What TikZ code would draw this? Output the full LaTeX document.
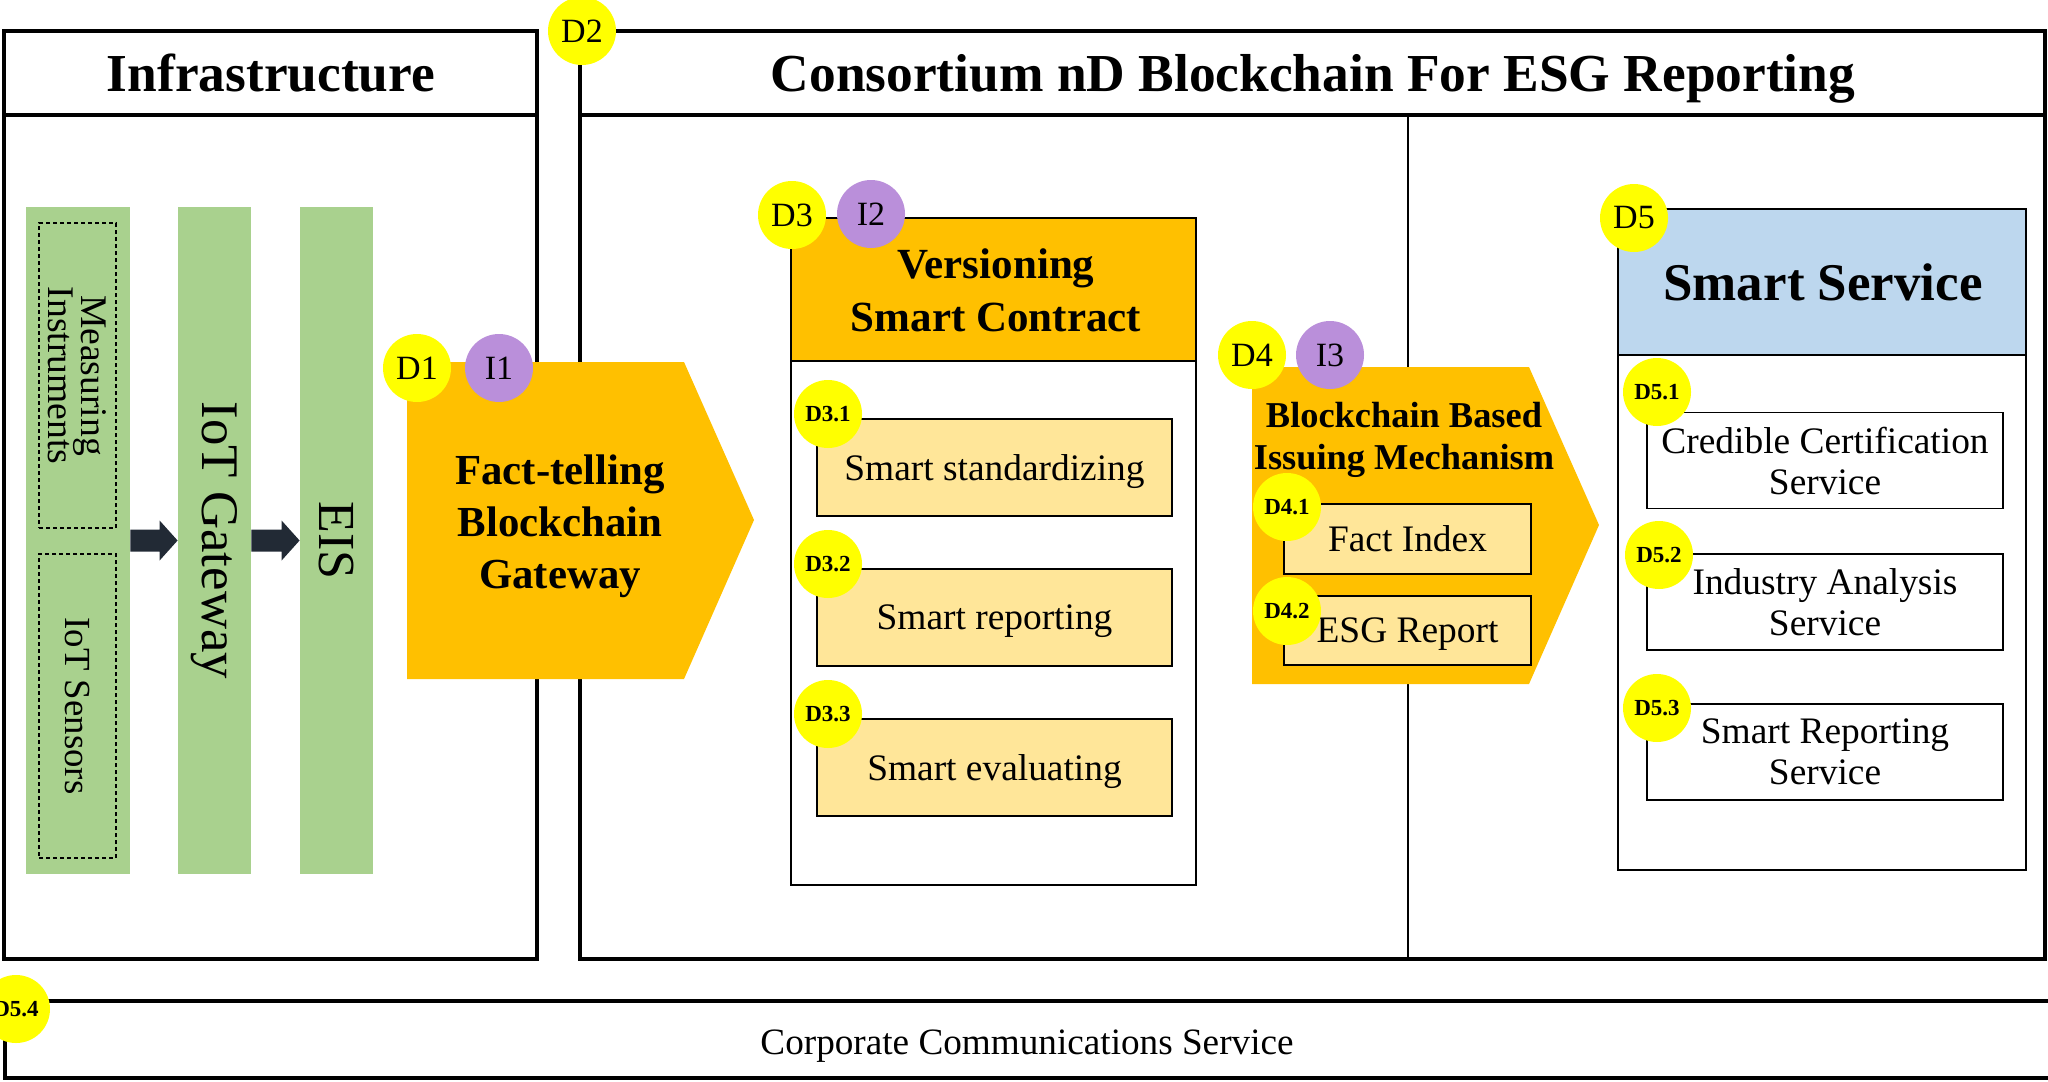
\documentclass[tikz,border=0pt]{standalone}
\usepackage{fontspec}
\setmainfont{Liberation Serif}
\usetikzlibrary{fit}

\definecolor{barGreen}{HTML}{A9D18E}
\definecolor{gateOrange}{HTML}{FFC000}
\definecolor{taskYellow}{HTML}{FFE699}
\definecolor{badgeYellow}{HTML}{FFFF00}
\definecolor{badgePurple}{RGB}{186,143,218}
\definecolor{headBlue}{HTML}{BDD7EE}
\definecolor{arrowNavy}{HTML}{222A35}

\newcommand{\fsz}[2]{\fontsize{#1}{#2}\selectfont}

\begin{document}
\begin{tikzpicture}[x=0.5pt, y=-0.5pt,
    frame/.style={draw, line width=2pt},
    bar/.style={fill=barGreen, inner sep=0pt},
    badge/.style={circle, fill=badgeYellow, minimum size=34pt, inner sep=0pt, font=\fsz{17}{20}},
    ibadge/.style={badge, fill=badgePurple},
    subbadge/.style={badge, font=\bfseries\fsz{11.5}{13}},
    task/.style={draw, line width=0.9pt, fill=taskYellow, inner sep=0pt, text depth=0pt, font=\fsz{18.7}{21}},
    service/.style={draw, line width=0.9pt, fill=white, inner sep=0pt, align=center, text depth=0pt,
        minimum width=178pt, minimum height=48pt, font=\fsz{18.7}{20.5}},
    title/.style={font=\bfseries\fsz{26.7}{32}}
]
    \useasboundingbox (0,0) rectangle (2048,1081);

    % Cornici principali
    \draw[frame] (4,31) rectangle (537,959);
    \draw[frame] (4,115) -- (537,115);
    \node[title] (infra) at (271,73) {Infrastructure};

    \draw[frame] (580,31) rectangle (2045,959);
    \draw[frame] (580,115) -- (2045,115);
    \draw[line width=1pt] (1408,115) -- (1408,959);
    \node[title] (cons) at (1313,79) {Consortium nD Blockchain For ESG Reporting};

    % Infrastruttura
    \node[bar, fit={(26,207) (130,874)}] (sensing) {};
    \node[bar, fit={(178,207) (251,874)}] (gw) {};
    \node[bar, fit={(300,207) (373,874)}] (eis) {};

    \node[draw, dashed, dash pattern=on 2pt off 1.5pt, line width=0.6pt, inner sep=0pt, fit={(39,223) (116,528)}] (instr) {};
    \node[draw, dashed, dash pattern=on 2pt off 1.5pt, line width=0.6pt, inner sep=0pt, fit={(39,554) (116,858)}] (sens) {};
    \node[rotate=-90, align=center, font=\fsz{18.8}{16.5}] (instrtxt) at (instr.center) {Measuring\\Instruments};
    \node[rotate=-90, font=\fsz{18.4}{21}] (senstxt) at (sens.center) {IoT Sensors};
    \node[rotate=-90, font=\fsz{26.4}{30}] (gwtxt) at (gw.center) {IoT Gateway};
    \node[rotate=-90, font=\fsz{26}{30}] (eistxt) at (eis.center) {EIS};

    % Frecce a blocco
    \foreach \a/\b in {sensing/gw, gw/eis}
        \fill[arrowNavy] ([yshift=5.5pt]\a.east) -- ([xshift=-9pt, yshift=5.5pt]\b.west)
            -- ([xshift=-9pt, yshift=10pt]\b.west) -- (\b.west)
            -- ([xshift=-9pt, yshift=-10pt]\b.west) -- ([xshift=-9pt, yshift=-5.5pt]\b.west)
            -- ([yshift=-5.5pt]\a.east) -- cycle;

    % Gateway
    \fill[gateOrange] (407,362) -- (684,362) -- (754,520) -- (684,679) -- (407,679) -- cycle;
    \node[align=center, font=\bfseries\fsz{21.4}{26}] (gate) at (560,526) {Fact-telling\\Blockchain\\Gateway};
    \node[badge] (d1) at (417,368) {D1};
    \node[ibadge] (i1) at (499,368) {I1};

    % Smart contract
    \draw[line width=1.1pt] (791,218) rectangle (1196,885);
    \draw[line width=1.1pt, fill=gateOrange] (791,218) rectangle (1196,361);
    \node[align=center, font=\bfseries\fsz{21.5}{26.5}] (ver) at (996,290) {Versioning\\Smart Contract};
    \foreach \name/\mid/\txt/\lbl in {std/467.5/Smart standardizing/D3.1, rep/617.5/Smart reporting/D3.2, eva/767.5/Smart evaluating/D3.3} {
        \node[task, minimum width=177.5pt, minimum height=48.5pt] (\name) at (994.5,\mid) {\txt};
        \node[subbadge] (b\name) at (828,\mid-53.5) {\lbl};
    }
    \node[badge] (d3) at (792,215) {D3};
    \node[ibadge] (i2) at (871,214) {I2};

    % Emissione
    \fill[gateOrange] (1252,367) -- (1529,367) -- (1599,525) -- (1529,684) -- (1252,684) -- cycle;
    \node[align=center, font=\bfseries\fsz{18.2}{21}] (issue) at (1404,440) {Blockchain Based\\Issuing Mechanism};
    \node[task, minimum width=123.5pt, minimum height=35pt] (fidx) at (1407.5,539) {Fact Index};
    \node[task, minimum width=123.5pt, minimum height=34.5pt] (esg) at (1407.5,630.5) {ESG Report};
    \node[subbadge] (d41) at (1287,507) {D4.1};
    \node[subbadge] (d42) at (1287,611) {D4.2};
    \node[badge] (d4) at (1252,355) {D4};
    \node[ibadge] (i3) at (1330,355) {I3};

    % Servizi
    \draw[line width=1.1pt] (1618,209) rectangle (2026,870);
    \draw[line width=1.1pt, fill=headBlue] (1618,209) rectangle (2026,355);
    \node[font=\bfseries\fsz{26.5}{30}] (smart) at (1823,282) {Smart Service};
    \node[service] (cert) at (1825,460.5) {Credible Certification\\Service};
    \node[service] (ind) at (1825,602) {Industry Analysis\\Service};
    \node[service] (srep) at (1825,752) {Smart Reporting\\Service};
    \node[subbadge] (d51) at (1657,392) {D5.1};
    \node[subbadge] (d52) at (1659,555) {D5.2};
    \node[subbadge] (d53) at (1657,708) {D5.3};
    \node[badge] (d5) at (1634,218) {D5};

    % Comunicazione
    \draw[frame] (5,1001) rectangle (2060,1078);
    \node[font=\fsz{18.6}{22}] (corp) at (1027,1046) {Corporate Communications Service};
    \node[subbadge] (d54) at (16,1009) {D5.4};

    \node[badge] (d2) at (582,31) {D2};

\end{tikzpicture}
\end{document}
